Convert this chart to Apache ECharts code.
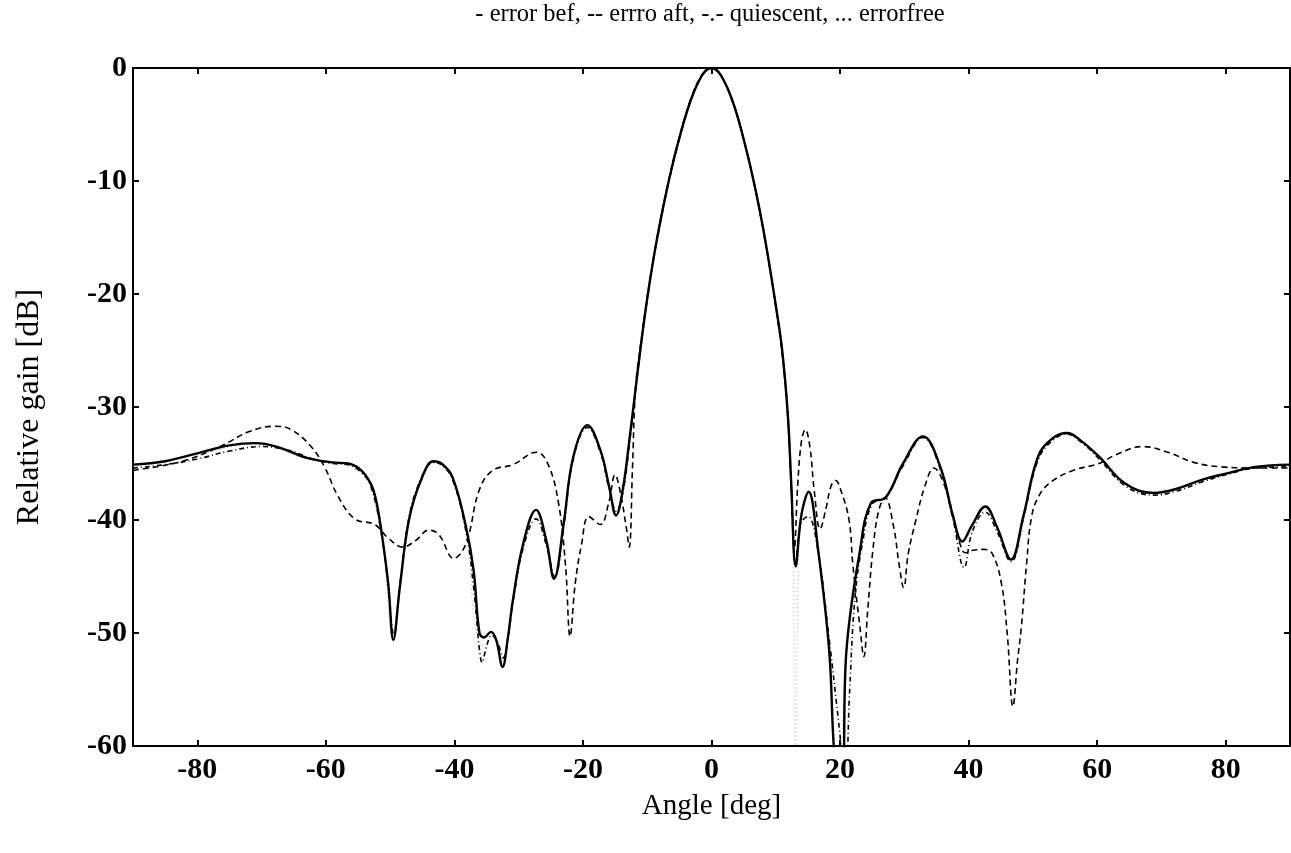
<!DOCTYPE html>
<html>
<head>
<meta charset="utf-8">
<script src="https://cdn.jsdelivr.net/npm/echarts@6/dist/echarts.min.js"></script>
<style>
html,body{margin:0;padding:0;background:#fff;}
#chart{width:1291px;height:853px;}
</style>
</head>
<body>
<div id="chart"></div>
<script>
// ---- data ----
const titleText = '- error bef, -- errro aft, -.- quiescent, ... errorfree';
const xTicks = [-80, -60, -40, -20, 0, 20, 40, 60, 80];
const yTicks = [0, -10, -20, -30, -40, -50, -60];

// error bef (solid)
const angA = [-90,-85,-80,-75,-71,-67.7,-63,-59,-56.5,-54.5,-53,-52.2,-51.3,-50.3,-49.5,-48.5,-47,-45,-43.3,-42,-40.3,-38.2,-37,-36.1,-35.4,-34.3,-33.5,-32.5,-31.7,-30.9,-29.3,-27.3,-25.7,-24.5,-23,-21.5,-19.3,-17.3,-15.9,-14.85,-13.8,-12.6,-12,-11,-10,-9,-8,-7,-6,-5,-4,-3,-2,-1,0,1,2,3,4,5,6,7,8,9,10,11,11.9,12.4,13.1,14,15.1,16.6,18.3,19.3,20.3,21,23.1,24.8,27.1,29.8,32.9,35.6,37.6,39,40.5,42.6,44.4,46.6,48.5,50.8,53,55.3,57.5,60.3,64.4,68.8,72,76.5,80,84.6,90];
const gainA = [-35.1,-34.8,-34.1,-33.4,-33.2,-33.5,-34.5,-34.9,-35.0,-35.6,-36.8,-38.2,-41.2,-45.6,-50.6,-46.0,-39.8,-36.2,-34.8,-35.0,-36.2,-40.6,-44.5,-50.0,-50.4,-49.9,-50.6,-53.0,-50.5,-47.1,-42.1,-39.1,-41.8,-45.2,-40.3,-34.4,-31.6,-33.8,-37.1,-39.6,-37.3,-32.1,-29.3,-24.6,-20.4,-16.8,-13.7,-10.9,-8.4,-6.2,-4.2,-2.5,-1.2,-0.3,0,-0.3,-1.2,-2.5,-4.2,-6.3,-8.6,-11.2,-14.1,-17.4,-21,-25,-30.9,-36.7,-44.1,-39.5,-37.5,-42.7,-51.5,-62,-63,-51.5,-42.7,-38.5,-38.0,-35.0,-32.6,-35.3,-39.7,-41.9,-40.5,-38.8,-40.6,-43.5,-39.7,-34.4,-32.8,-32.3,-33.0,-34.4,-36.8,-37.6,-37.3,-36.4,-35.9,-35.3,-35.1];

// errro aft (dashed, clearly different curve)
const angC = [-90,-82.3,-76.1,-72,-67.9,-65.4,-62.3,-60.2,-58.1,-55.5,-52.4,-50.3,-48,-46,-44,-42.4,-40.1,-38.2,-36.1,-34,-30.9,-27.2,-25.4,-23.8,-22.7,-22,-21.2,-20.2,-19.1,-17.3,-16,-15,-14.2,-13.3,-12.8,-12.3,-11.8,-11,-10,-9,-8,-7,-6,-5,-4,-3,-2,-1,0,1,2,3,4,5,6,7,8,9,10,11,11.7,12.3,12.9,13.4,14,14.6,15.3,16,16.9,17.8,18.6,19.3,20.2,21.4,22,23.1,23.7,24.3,25.1,26,27,28.3,29.2,29.9,30.6,31.8,33.2,34.6,36.3,37.6,38.6,39.5,40.5,42.4,43.7,45.1,46,46.9,47.6,48.2,49,49.8,51,52.9,56.3,60.3,63,67.1,71,75,79.3,85,90];
const gainC = [-35.6,-34.8,-33.4,-32.2,-31.7,-32.0,-33.5,-35.3,-37.9,-39.9,-40.4,-41.6,-42.4,-41.8,-40.9,-41.3,-43.4,-42.1,-37.3,-35.6,-35.1,-34.0,-35.1,-38.5,-44.1,-50.3,-45.6,-42.1,-39.7,-40.4,-38.5,-36.0,-37.5,-40.5,-42.4,-35.5,-28.2,-24.4,-20.3,-16.7,-13.6,-10.8,-8.3,-6.1,-4.1,-2.4,-1.1,-0.3,0,-0.3,-1.2,-2.5,-4.2,-6.3,-8.6,-11.2,-14.2,-17.5,-21.1,-25.3,-29.5,-35.5,-42.5,-37,-33,-32.0,-33.5,-37.5,-40.8,-39,-37,-36.5,-37.5,-40.0,-44,-49.5,-52.1,-48,-42.7,-39.2,-38.0,-40.5,-44,-46,-43,-40.0,-37.0,-35.4,-37.0,-39.7,-42.0,-42.9,-42.7,-42.6,-43.0,-45.6,-50,-56.5,-52.5,-49.5,-44,-39.7,-37.8,-36.6,-35.6,-35.0,-34.2,-33.5,-34.0,-34.9,-35.3,-35.4,-35.4];

// quiescent (dash-dot, close to the solid curve)
const angB = [-90,-85,-80,-75,-70,-66,-62,-59,-56.5,-54.5,-53,-51.3,-50.3,-49.4,-48.5,-47,-45,-43.3,-42,-40.3,-38.2,-37,-36.1,-35.7,-35,-34.2,-33.3,-32.4,-31.6,-30.9,-29.3,-27.3,-25.7,-24.4,-23,-21.5,-19.3,-17.3,-15.9,-14.8,-13.8,-12.6,-12,-11,-10,-9,-8,-7,-6,-5,-4,-3,-2,-1,0,1,2,3,4,5,6,7,8,9,10,11,11.9,12.4,13.1,13.9,15.0,16.5,18.3,19.8,20.8,21.5,22.3,23.5,25,27.1,29.8,32.9,35.6,37.6,39.3,40.6,42.6,44.4,46.6,48.5,50.8,53,55.3,57.5,60.3,64.4,68.8,72,76.5,80,84.6,90];
const gainB = [-35.4,-35.1,-34.6,-33.9,-33.5,-33.8,-34.6,-35.0,-35.1,-35.8,-37,-41.4,-45.8,-50.2,-45.8,-39.6,-36.1,-34.9,-35.1,-36.4,-41,-46,-51.5,-52.6,-51.2,-50.2,-50.8,-52.2,-50.2,-47.3,-42.5,-39.9,-42.2,-45.0,-40.6,-34.6,-31.8,-34.0,-37.3,-39.2,-37.6,-32.5,-29.4,-24.7,-20.5,-16.9,-13.8,-11.0,-8.5,-6.3,-4.2,-2.5,-1.2,-0.3,0,-0.3,-1.2,-2.5,-4.2,-6.3,-8.6,-11.2,-14.1,-17.4,-21,-25.1,-31,-37,-43.8,-40.3,-39.7,-42.5,-50.5,-58,-63,-55,-47,-42,-38.6,-38.0,-35.2,-32.7,-35.5,-40,-44.2,-41,-39.3,-41,-43.7,-39.9,-34.7,-33,-32.4,-33.1,-34.6,-37.0,-37.8,-37.5,-36.6,-36.0,-35.4,-35.3];

// errorfree (dotted, faint)
const angD = [-90,-80,-71,-63,-57,-53,-51.3,-49.5,-47,-43.3,-40.3,-38.2,-36.1,-34.3,-32.5,-30.9,-27.3,-24.5,-21.5,-19.3,-17.3,-14.85,-12.6,-10,-8,-6,-4,-2,0,2,4,6,8,10,11.9,12.6,13.1,13.6,15.1,16.6,18.3,19.8,21,23.1,27.1,32.9,37.6,39,42.6,46.6,50.8,55.3,60.3,68.8,76.5,84.6,90];
const gainD = [-35.2,-34.2,-33.3,-34.6,-35.1,-36.9,-41.3,-50.4,-39.9,-34.9,-36.3,-40.8,-50.2,-50.0,-52.8,-47.2,-39.2,-45.1,-34.5,-31.7,-33.9,-39.5,-32.2,-20.4,-13.7,-8.4,-4.2,-1.2,0,-1.2,-4.2,-8.6,-14.1,-21,-30.9,-40,-66,-42,-37.6,-42.8,-51.6,-64,-51.6,-42.8,-38.1,-32.7,-39.8,-42,-38.9,-43.6,-34.5,-32.4,-34.5,-37.7,-36.5,-35.4,-35.2];

function pairs(xs, ys) { return xs.map((x, i) => [x, ys[i]]); }

const serif = '"Liberation Serif", "DejaVu Serif", serif';
const chart = echarts.init(document.getElementById('chart'));

const axisLine = { show: true, onZero: false, lineStyle: { color: '#000', width: 2 } };
const tickStyle = { inside: true, length: 6, lineStyle: { color: '#000', width: 2 } };

const option = {
  animation: false,
  backgroundColor: '#fff',
  title: {
    text: titleText,
    left: 705,
    textAlign: 'center',
    top: -3,
    textStyle: { fontFamily: serif, fontSize: 24.5, fontWeight: 'normal', color: '#000' }
  },
  grid: { left: 133, right: 1, top: 68, bottom: 107, containLabel: false },
  xAxis: [
    {
      type: 'value', min: -90, max: 90, position: 'bottom',
      axisLine: axisLine,
      axisTick: Object.assign({ customValues: xTicks }, tickStyle),
      axisLabel: { customValues: xTicks, margin: 9, fontFamily: serif, fontSize: 30, fontWeight: 'bold', color: '#000' },
      splitLine: { show: false },
      name: 'Angle [deg]', nameLocation: 'middle', nameGap: 46,
      nameTextStyle: { fontFamily: serif, fontSize: 29, color: '#000' }
    },
    {
      type: 'value', min: -90, max: 90, position: 'top',
      axisLine: axisLine,
      axisTick: Object.assign({ customValues: xTicks }, tickStyle),
      axisLabel: { show: false },
      splitLine: { show: false }
    }
  ],
  yAxis: [
    {
      type: 'value', min: -60, max: 0, interval: 10, position: 'left',
      axisLine: axisLine,
      axisTick: tickStyle,
      axisLabel: { margin: 6, fontFamily: serif, fontSize: 30, fontWeight: 'bold', color: '#000' },
      splitLine: { show: false },
      name: 'Relative gain [dB]', nameLocation: 'middle', nameGap: 87,
      nameTextStyle: { fontFamily: serif, fontSize: 32, color: '#000' }
    },
    {
      type: 'value', min: -60, max: 0, interval: 10, position: 'right',
      axisLine: axisLine,
      axisTick: tickStyle,
      axisLabel: { show: false },
      splitLine: { show: false }
    }
  ],
  series: [
    {
      name: 'errorfree', type: 'line', data: pairs(angD, gainD),
      showSymbol: false, smooth: 0.4, clip: true,
      lineStyle: { color: '#aaa', width: 1, type: [1, 3] }, z: 1
    },
    {
      name: 'errro aft', type: 'line', data: pairs(angC, gainC),
      showSymbol: false, smooth: 0.4, clip: true,
      lineStyle: { color: '#000', width: 1.6, type: [6, 4] }, z: 2
    },
    {
      name: 'quiescent', type: 'line', data: pairs(angB, gainB),
      showSymbol: false, smooth: 0.4, clip: true,
      lineStyle: { color: '#000', width: 1.6, type: [5, 3, 1, 3] }, z: 3
    },
    {
      name: 'error bef', type: 'line', data: pairs(angA, gainA),
      showSymbol: false, smooth: 0.4, clip: true,
      lineStyle: { color: '#000', width: 2.4, type: 'solid' }, z: 4
    }
  ]
};
chart.setOption(option);
</script>
</body>
</html>
